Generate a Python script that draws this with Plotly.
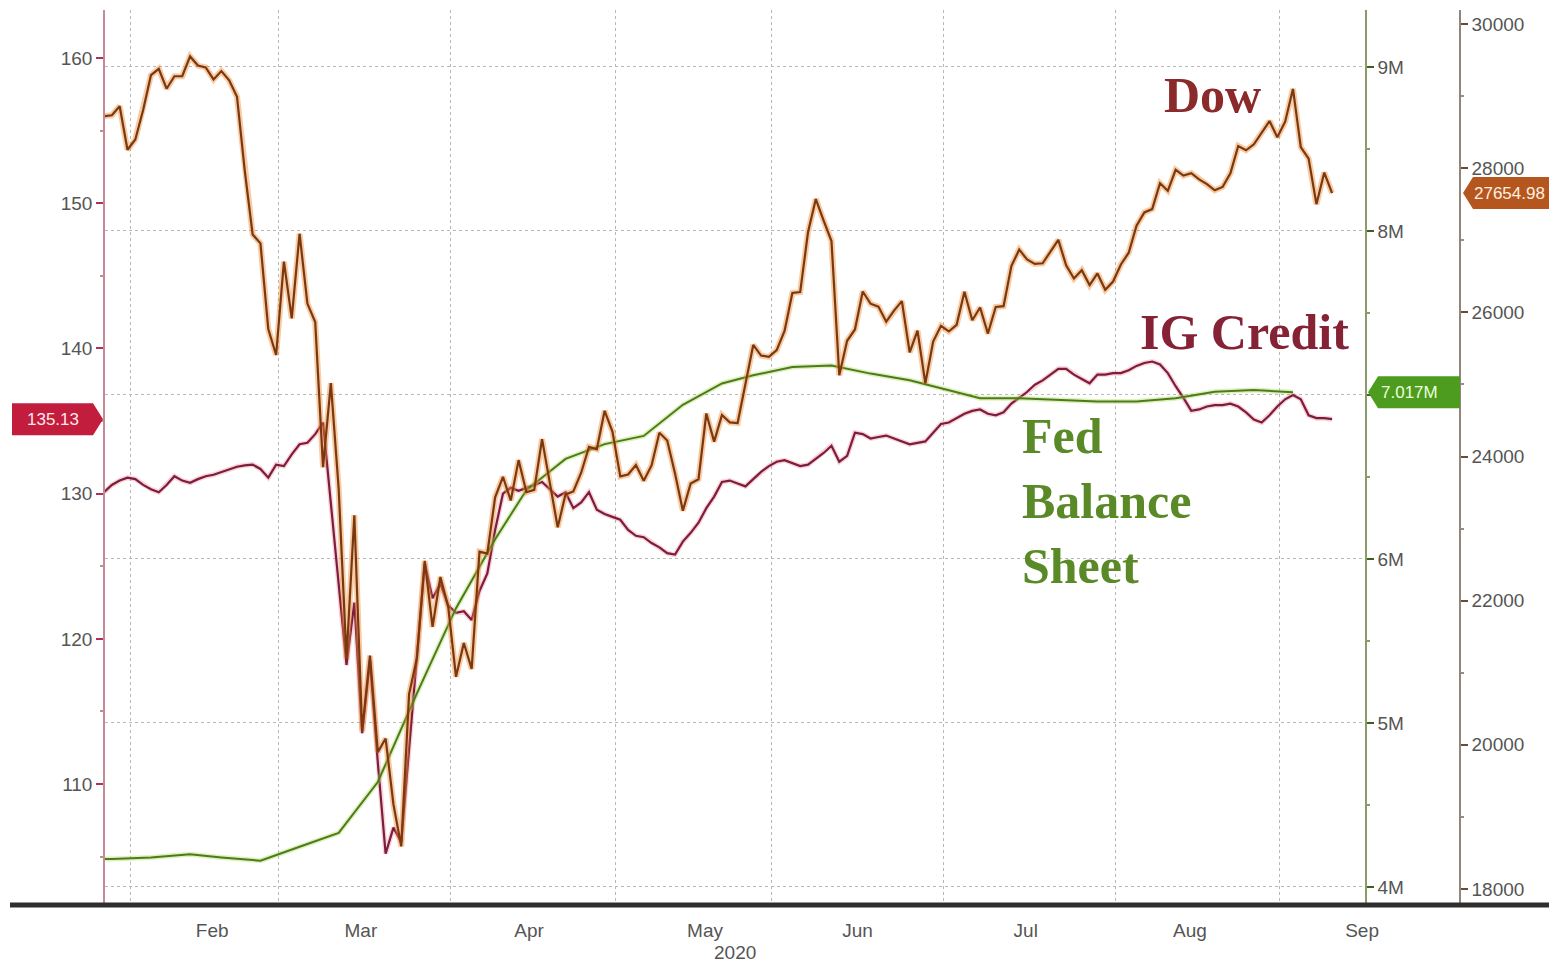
import pandas as pd
import plotly.graph_objects as go

# ---------------- data ----------------
HOLIDAYS = ["2020-02-17", "2020-04-10", "2020-05-25", "2020-07-03", "2020-09-07"]
trade_days = pd.bdate_range("2020-01-28", "2020-09-10")
trade_days = trade_days[~trade_days.isin(pd.to_datetime(HOLIDAYS))]
CLOSE = pd.Timedelta(hours=16)
X_DAYS = trade_days + CLOSE

DOW = [
    28722, 28734, 28859, 28256,
    # Feb
    28399, 28807, 29290, 29379, 29103, 29276, 29277, 29551, 29424, 29398,
    29232, 29348, 29219, 28992, 27961, 27081, 26957, 25767, 25409,
    # Mar
    26703, 25917, 27091, 26122, 25865, 23851, 25018, 23553, 21200, 23186,
    20189, 21237, 19899, 20087, 19174, 18592, 20705, 21201, 22552, 21637,
    22328, 21917,
    # Apr
    20944, 21413, 21053, 22680, 22654, 23434, 23719, 23390, 23950, 23505,
    23538, 24242, 23650, 23019, 23475, 23516, 23775, 24134, 24101, 24634, 24346,
    # May
    23724, 23750, 23883, 23665, 23876, 24331, 24222, 23765, 23248, 23625,
    23685, 24597, 24207, 24576, 24474, 24465, 24995, 25548, 25401, 25383,
    # Jun
    25475, 25742, 26270, 26282, 27111, 27572, 27273, 26990, 25128, 25606,
    25763, 26290, 26120, 26080, 25871, 26025, 26156, 25445, 25746, 25016,
    25595, 25813,
    # Jul
    25735, 25827, 26287, 25890, 26067, 25706, 26075, 26086, 26643, 26870,
    26735, 26672, 26681, 26840, 27006, 26653, 26470, 26585, 26379, 26540,
    26314, 26428,
    # Aug
    26665, 26828, 27201, 27387, 27433, 27791, 27687, 27977, 27897, 27931,
    27845, 27779, 27693, 27740, 27930, 28308, 28249, 28332, 28493, 28654, 28430,
    # Sep
    28646, 29100, 28292, 28133, 27501, 27940, 27654.98,
]

IG = [
    130.1, 130.6, 130.9, 131.1,
    # Feb
    131.0, 130.6, 130.3, 130.1, 130.6, 131.2, 130.9, 130.75, 131.0, 131.2,
    131.3, 131.5, 131.7, 131.85, 131.95, 132.0, 131.7, 131.1, 132.0,
    # Mar
    131.9, 132.7, 133.4, 133.5, 134.1, 134.9, 129.5, 124.0, 118.2, 122.5,
    113.5, 118.5, 111.5, 105.2, 107.0, 106.0, 112.5, 118.5, 125.2, 122.8,
    123.8, 122.3,
    # Apr
    121.8, 121.9, 121.3, 123.3, 124.5, 127.5, 130.0, 130.4, 130.2, 130.4,
    130.6, 130.8, 130.3, 129.8, 130.1, 129.0, 129.4, 130.1, 128.9, 128.6, 128.4,
    # May
    128.2, 127.5, 127.1, 127.0, 126.6, 126.3, 125.9, 125.8, 126.7, 127.3,
    128.0, 129.0, 129.8, 130.8, 130.9, 130.7, 130.5, 131.0, 131.5, 131.9,
    # Jun
    132.2, 132.3, 132.1, 131.9, 132.0, 132.4, 132.8, 133.3, 132.2, 132.6,
    134.2, 134.1, 133.8, 133.9, 134.0, 133.8, 133.6, 133.4, 133.5, 133.6,
    134.2, 134.8,
    # Jul
    134.9, 135.2, 135.5, 135.7, 135.8, 135.5, 135.4, 135.6, 136.2, 136.6,
    137.0, 137.5, 137.8, 138.2, 138.6, 138.6, 138.2, 137.9, 137.6, 138.2,
    138.2, 138.3,
    # Aug
    138.3, 138.5, 138.8, 139.0, 139.1, 138.9, 138.3, 137.4, 136.6, 135.7,
    135.8, 136.0, 136.1, 136.1, 136.2, 136.0, 135.6, 135.1, 134.9, 135.4, 136.0,
    # Sep
    136.5, 136.8, 136.5, 135.4, 135.2, 135.2, 135.13,
]

FED_DATES = [
    "2020-01-22", "2020-01-29", "2020-02-05", "2020-02-12", "2020-02-19",
    "2020-02-26", "2020-03-04", "2020-03-11", "2020-03-18", "2020-03-25",
    "2020-04-01", "2020-04-08", "2020-04-15", "2020-04-22", "2020-04-29",
    "2020-05-06", "2020-05-13", "2020-05-20", "2020-05-27", "2020-06-03",
    "2020-06-10", "2020-06-17", "2020-06-24", "2020-07-01", "2020-07-08",
    "2020-07-15", "2020-07-22", "2020-07-29", "2020-08-05", "2020-08-12",
    "2020-08-19", "2020-08-26", "2020-09-02",
]
FED = [
    4.17, 4.17, 4.18, 4.20, 4.18,
    4.16, 4.245, 4.33, 4.64, 5.18,
    5.70, 6.12, 6.42, 6.61, 6.70,
    6.75, 6.94, 7.07, 7.12, 7.17,
    7.18, 7.13, 7.09, 7.03, 6.98,
    6.98, 6.97, 6.96, 6.96, 6.98,
    7.02, 7.03, 7.017,
]
X_FED = pd.to_datetime(FED_DATES) + CLOSE

MONTH_TICK0 = "2020-02-01"
IG_TICKS = [110, 120, 130, 140, 150, 160]
FED_TICKS = [4, 5, 6, 7, 8, 9]
FED_LABELS = ["4M", "5M", "6M", "", "8M", "9M"]   # 7M is hidden behind the value tag
DOW_TICKS = [18000, 20000, 22000, 24000, 26000, 28000, 30000]

# ---------------- colours ----------------
DOW_C = "#7a3810"
DOW_GLOW = "rgba(240,140,50,0.45)"
IG_C = "#7c1d3c"
IG_GLOW = "rgba(235,110,130,0.30)"
FED_C = "#4e7a1c"
FED_GLOW = "rgba(170,220,90,0.40)"
TXT = "#555555"
NARROW = "Liberation Sans Narrow, Liberation Sans, Arial"

fig = go.Figure()

fig.add_trace(go.Scatter(x=X_FED, y=FED, yaxis="y2", mode="lines",
                         line=dict(color=FED_GLOW, width=5), hoverinfo="skip"))
fig.add_trace(go.Scatter(x=X_FED, y=FED, yaxis="y2", mode="lines",
                         line=dict(color=FED_C, width=2), name="Fed Balance Sheet"))
fig.add_trace(go.Scatter(x=X_DAYS, y=IG, yaxis="y", mode="lines",
                         line=dict(color=IG_GLOW, width=5), hoverinfo="skip"))
fig.add_trace(go.Scatter(x=X_DAYS, y=IG, yaxis="y", mode="lines",
                         line=dict(color=IG_C, width=2.2), name="IG Credit"))
fig.add_trace(go.Scatter(x=X_DAYS, y=DOW, yaxis="y3", mode="lines",
                         line=dict(color=DOW_GLOW, width=6), hoverinfo="skip"))
fig.add_trace(go.Scatter(x=X_DAYS, y=DOW, yaxis="y3", mode="lines",
                         line=dict(color=DOW_C, width=2.2), name="Dow"))

# pixel geometry helpers (layout only)
W, H = 1549, 963
ML, MR, MT, MB = 105, 89, 10, 58
PW = W - ML - MR
PH = H - MT - MB
XD = (1365 - ML) / PW


def px(x):
    return (x - ML) / PW


def py(y):
    return (H - MB - y) / PH


tickfont = dict(family=NARROW, size=19, color=TXT)

fig.update_layout(
    width=W, height=H,
    margin=dict(l=ML, r=MR, t=MT, b=MB),
    paper_bgcolor="white", plot_bgcolor="white",
    showlegend=False,
    font=dict(family=NARROW, size=13, color=TXT),
    xaxis=dict(
        type="date", domain=[0, XD],
        range=["2020-01-28 19:00", "2020-09-16 21:00"],
        rangebreaks=[dict(bounds=["sat", "mon"]), dict(values=HOLIDAYS)],
        tick0=MONTH_TICK0, dtick="M1", tickformat="%b", ticklabelmode="period",
        showgrid=True, gridcolor="#b8b8b8", griddash="dot", gridwidth=1,
        showline=False, zeroline=False, ticks="",
        ticklabelstandoff=12,
        tickfont=dict(family=NARROW, size=19, color=TXT),
    ),
    yaxis=dict(
        range=[101.67, 163.31], tickvals=IG_TICKS, side="left",
        showgrid=False, zeroline=False,
        showline=True, linecolor="#c58a98", linewidth=1.5,
        ticks="outside", ticklen=7, tickcolor="#b03050", tickwidth=2,
        minor=dict(dtick=5, ticks="outside", ticklen=3, tickcolor="#c58a98", showgrid=False),
        tickfont=tickfont,
    ),
    yaxis2=dict(
        range=[3.890, 9.347], tickvals=FED_TICKS, ticktext=FED_LABELS,
        overlaying="y", side="right", anchor="x",
        showgrid=True, gridcolor="#b8b8b8", griddash="dot", gridwidth=1,
        zeroline=False,
        showline=True, linecolor="#8a9a6a", linewidth=1.5,
        ticks="outside", ticklen=7, tickcolor="#3f5f1f", tickwidth=2,
        minor=dict(dtick=0.5, ticks="outside", ticklen=3, tickcolor="#8a9a6a", showgrid=False),
        tickfont=tickfont,
    ),
    yaxis3=dict(
        range=[17778, 30195], tickvals=DOW_TICKS, tickformat="d",
        overlaying="y", side="right", anchor="free", position=1.0,
        showgrid=False, zeroline=False,
        showline=True, linecolor="#958478", linewidth=1.5,
        ticks="outside", ticklen=7, tickcolor="#6a4a3a", tickwidth=2,
        minor=dict(dtick=1000, ticks="outside", ticklen=3, tickcolor="#a08a80", showgrid=False),
        tickfont=tickfont,
    ),
)

shapes = []
shapes.append(dict(type="line", xref="paper", yref="paper",
                   x0=px(10), x1=px(1549), y0=py(905), y1=py(905),
                   line=dict(color="#2e2e2e", width=5), layer="above"))
shapes.append(dict(type="path", xref="paper", xsizemode="pixel", xanchor=0,
                   yref="y", ysizemode="pixel", yanchor=IG[-1],
                   path="M -93,-16 L -12,-16 L -2,0 L -12,16 L -93,16 Z",
                   fillcolor="#c21d3c", line=dict(width=0), layer="above"))
shapes.append(dict(type="path", xref="paper", xsizemode="pixel", xanchor=XD,
                   yref="y2", ysizemode="pixel", yanchor=FED[-1],
                   path="M 3,0 L 13,-16 L 95,-16 L 95,16 L 13,16 Z",
                   fillcolor="#4d9c1f", line=dict(width=0), layer="above"))
shapes.append(dict(type="path", xref="paper", xsizemode="pixel", xanchor=1.0,
                   yref="y3", ysizemode="pixel", yanchor=DOW[-1],
                   path="M 3,0 L 13,-16 L 100,-16 L 100,16 L 13,16 Z",
                   fillcolor="#b5561e", line=dict(width=0), layer="above"))
fig.update_layout(shapes=shapes)

tagfont = dict(family=NARROW, size=17)
serif = "Liberation Serif, Times New Roman, serif"
annotations = [
    dict(xref="paper", yref="y", x=0, y=IG[-1], xshift=-52, text=f"{IG[-1]:.2f}",
         showarrow=False, font=dict(color="#ffe8ec", **tagfont), xanchor="center", yanchor="middle"),
    dict(xref="paper", yref="y2", x=XD, y=FED[-1], xshift=14, text=f"{FED[-1]:.3f}M",
         showarrow=False, font=dict(color="#eaffd8", **tagfont), xanchor="left", yanchor="middle"),
    dict(xref="paper", yref="y3", x=1.0, y=DOW[-1], xshift=12, text=f"{DOW[-1]:.2f}",
         showarrow=False, font=dict(color="#fff0e0", **tagfont), xanchor="left", yanchor="middle"),
    dict(xref="paper", yref="paper", x=px(1212), y=py(95), text="<b>Dow</b>",
         showarrow=False, font=dict(family=serif, size=50, color="#8a2a2a"),
         xanchor="center", yanchor="middle"),
    dict(xref="paper", yref="paper", x=px(1244), y=py(332), text="<b>IG Credit</b>",
         showarrow=False, font=dict(family=serif, size=50, color="#862236"),
         xanchor="center", yanchor="middle"),
    dict(xref="paper", yref="paper", x=px(1020), y=py(501),
         text="<b>Fed<br>Balance<br>Sheet</b>", align="left",
         showarrow=False, font=dict(family=serif, size=50, color="#5a8a28"),
         xanchor="left", yanchor="middle"),
    dict(xref="paper", yref="paper", x=px(735), y=py(952), text="2020",
         showarrow=False, font=dict(family=NARROW, size=19, color=TXT),
         xanchor="center", yanchor="middle"),
]
fig.update_layout(annotations=annotations)

fig.write_html(
    "out.html",
    config={"displayModeBar": False},
    post_script="document.body.style.margin='0';document.body.style.overflow='hidden';",
)
